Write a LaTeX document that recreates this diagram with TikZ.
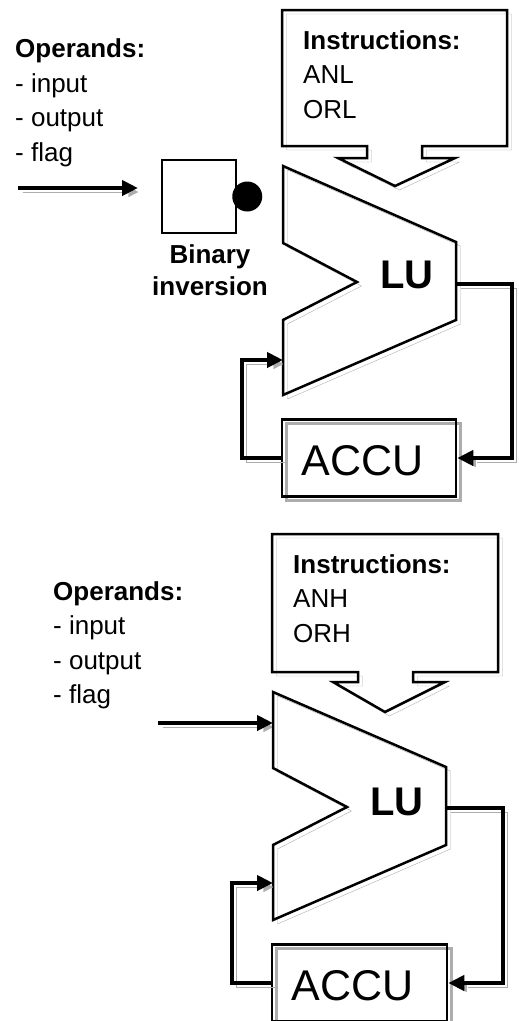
\documentclass[tikz,border=0pt]{standalone}
\usepackage{fontspec}
\setmainfont{Liberation Sans}
\usetikzlibrary{arrows.meta}
\tikzset{
  ghost/.style={preaction={draw=black!32,transform canvas={shift={(4.5pt,-4pt)}}}},
  outline/.style={draw,line width=2.5pt,ghost},
  wire/.style={line width=4pt,ghost,-{Triangle[length=16pt,width=15pt]}},
  txt/.style={font=\fontsize{26}{34.5}\selectfont,inner sep=0pt,align=left},
  bigtxt/.style={font=\fontsize{43}{43}\selectfont,inner sep=0pt},
}
\begin{document}
\begin{tikzpicture}[x=1pt,y=-1pt]
\useasboundingbox (0,0) rectangle (519,1021);

\node[txt,anchor=north west] (opsA) at (15,38.5) {\textbf{Operands:}\\- input\\- output\\- flag};
\draw[outline] (282,10) -- (507,10) -- (507,146) -- (422,146) -- (422,158) -- (455,158)
  -- (395,186) -- (338,158) -- (367,158) -- (367,146) -- (282,146) -- cycle;
\node[txt,anchor=north west] (insA) at (303,30) {\textbf{Instructions:}\\ANL\\ORL};

\node[draw,line width=2.5pt,minimum width=74,minimum height=73] (inv) at (199,196.5) {};
\node[circle,fill,inner sep=0pt,minimum size=30] (dot) at ([xshift=10pt]inv.east) {};
\node[txt,align=center,font=\fontsize{26}{32}\selectfont\bfseries,anchor=north] (invlbl) at (210,244) {Binary\\inversion};
\coordinate (inA) at (18,188);
\coordinate (tipA) at (138,188);
\draw[wire] (inA) -- (tipA);

\draw[outline] (283,166) -- (456,242) -- (456,320) -- (283,395) -- (283,320) -- (357,282) -- (283,243) -- cycle;
\coordinate (luoutA) at (456,284);
\coordinate (lufbA) at (283,360);
\node[bigtxt,font=\fontsize{40}{40}\selectfont\bfseries,anchor=base] (luA) at (407,288) {LU};
\node[outline,minimum width=174,minimum height=77] (accuA) at (369,458) {};
\node[bigtxt,anchor=base] (accuAlbl) at (362.5,475) {ACCU};
\draw[wire] (luoutA) -- ++(56,0) |- (accuA.east);
\draw[wire] (accuA.west) -- ++(-39,0) |- (lufbA);

\node[txt,anchor=north west] (opsB) at (53,581) {\textbf{Operands:}\\- input\\- output\\- flag};
\draw[outline] (272,534) -- (498,534) -- (498,672) -- (413,672) -- (413,682) -- (445,682)
  -- (385,712) -- (333,682) -- (358,682) -- (358,672) -- (272,672) -- cycle;
\node[txt,anchor=north west] (insB) at (293,554) {\textbf{Instructions:}\\ANH\\ORH};
\coordinate (inB) at (158,723);
\coordinate (tipB) at (273,723);
\draw[wire] (inB) -- (tipB);

\draw[outline] (273,692) -- (446,767) -- (446,845) -- (273,920) -- (273,845) -- (347,807) -- (273,768) -- cycle;
\coordinate (luoutB) at (446,808);
\coordinate (lufbB) at (273,883);
\node[bigtxt,font=\fontsize{40}{40}\selectfont\bfseries,anchor=base] (luB) at (397,815) {LU};
\node[outline,minimum width=175,minimum height=77] (accuB) at (359.5,983) {};
\node[bigtxt,anchor=base] (accuBlbl) at (352.5,1000) {ACCU};
\draw[wire] (luoutB) -- ++(57,0) |- (accuB.east);
\draw[wire] (accuB.west) -- ++(-39,0) |- (lufbB);
\end{tikzpicture}
\end{document}
